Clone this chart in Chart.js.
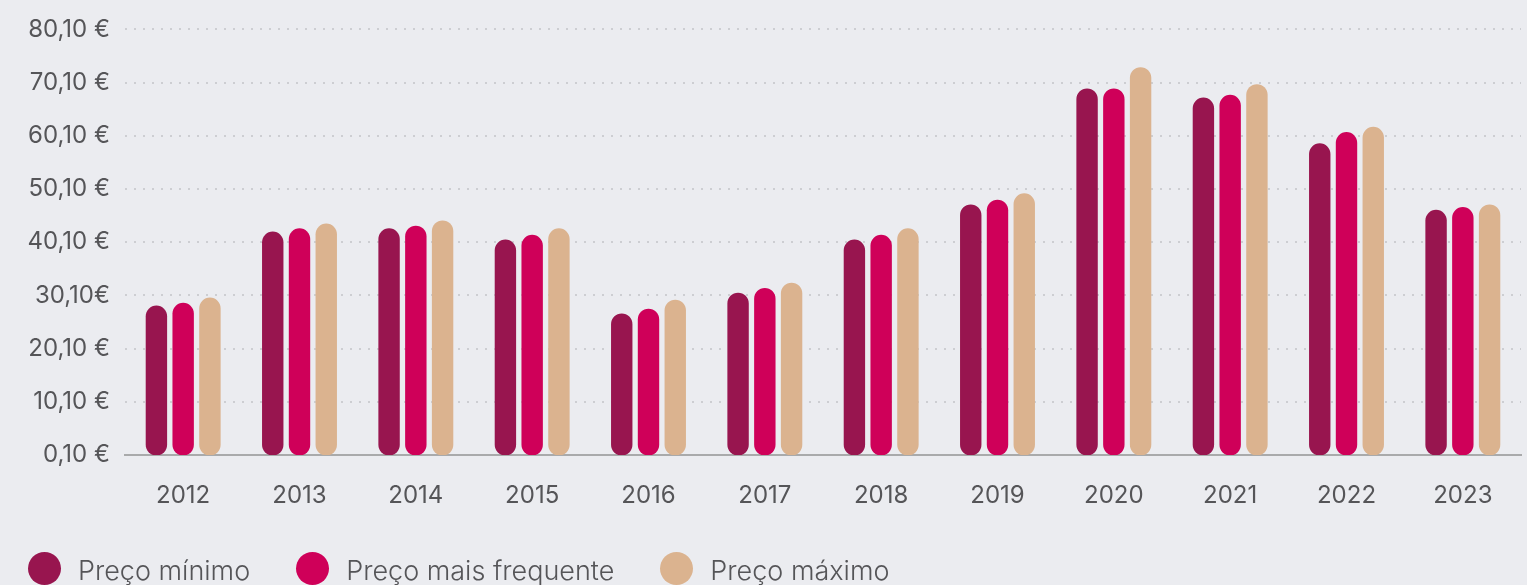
<!DOCTYPE html>
<html>
<head>
<meta charset="utf-8">
<script src="https://cdn.jsdelivr.net/npm/chart.js@4.4.1/dist/chart.umd.min.js"></script>
<style>
  html, body { margin: 0; padding: 0; background: #ebecf0; }
  #wrap { position: relative; width: 1527px; height: 585px; overflow: hidden; }
  #c { position: absolute; left: 0; top: 0; }
  #legend { position: absolute; left: 28px; top: 552px; display: flex; align-items: center;
    font-family: Inter, "Open Sans", sans-serif; font-weight: 300; font-size: 27px; color: #555558; }
  .item { display: flex; align-items: center; margin-right: 46px; }
  .dot { width: 33px; height: 33px; border-radius: 50%; margin-right: 17px; }
  .item span { position: relative; top: 2px; }
</style>
</head>
<body>
<div id="wrap">
  <canvas id="c" width="1527" height="585"></canvas>
  <div id="legend"></div>
</div>
<script>
const categories = ["2012","2013","2014","2015","2016","2017","2018","2019","2020","2021","2022","2023"];
const seriesNames = ["Preço mínimo", "Preço mais frequente", "Preço máximo"];
const precoMinimo = [28.2, 42.1, 42.7, 40.6, 26.7, 30.6, 40.6, 47.2, 69.0, 67.3, 58.7, 46.2];
const precoMaisFrequente = [28.7, 42.7, 43.2, 41.5, 27.6, 31.5, 41.5, 48.1, 69.0, 67.8, 60.8, 46.7];
const precoMaximo = [29.7, 43.6, 44.2, 42.7, 29.3, 32.5, 42.7, 49.3, 73.0, 69.8, 61.8, 47.2];
const yTickValues = [0.1, 10.1, 20.1, 30.1, 40.1, 50.1, 60.1, 70.1, 80.1];
const yTickLabels = ["0,10 €", "10,10 €", "20,10 €", "30,10€", "40,10 €", "50,10 €", "60,10 €", "70,10 €", "80,10 €"];
const colors = ["#98154f", "#cf0059", "#dbb38f"];

const seriesValues = [precoMinimo, precoMaisFrequente, precoMaximo];

const legend = document.getElementById('legend');
seriesNames.forEach((n, i) => {
  const it = document.createElement('div'); it.className = 'item';
  const d = document.createElement('div'); d.className = 'dot'; d.style.background = colors[i];
  const t = document.createElement('span'); t.textContent = n;
  it.appendChild(d); it.appendChild(t); legend.appendChild(it);
});

new Chart(document.getElementById('c'), {
  type: 'bar',
  data: {
    labels: categories,
    datasets: seriesNames.map((n, i) => ({
      label: n,
      data: seriesValues[i],
      backgroundColor: colors[i],
      borderRadius: 12,
      borderSkipped: false,
      categoryPercentage: 0.69,
      barPercentage: 0.8
    }))
  },
  options: {
    responsive: false,
    animation: false,
    layout: { padding: { top: 29, right: 6, left: 0, bottom: 0 } },
    plugins: { legend: { display: false }, tooltip: { enabled: false } },
    scales: {
      x: {
        grid: { display: false, drawTicks: false },
        border: { display: true, color: '#a9aaab', width: 2 },
        ticks: { color: '#555558', font: { family: 'Inter', size: 24 }, padding: 26 },
        afterFit: (s) => { s.height = 130; }
      },
      y: {
        min: 0.1, max: 80.1,
        afterBuildTicks: (s) => { s.ticks = yTickValues.map(v => ({ value: v })); },
        afterFit: (s) => { s.width = 125; },
        grid: { color: '#cdced2', lineWidth: 2, drawTicks: false },
        border: { display: false, dash: [2, 7] },
        ticks: {
          color: '#555558', font: { family: 'Inter', size: 24 }, padding: 15,
          callback: (v, i) => yTickLabels[i]
        }
      }
    }
  }
});
</script>
</body>
</html>
